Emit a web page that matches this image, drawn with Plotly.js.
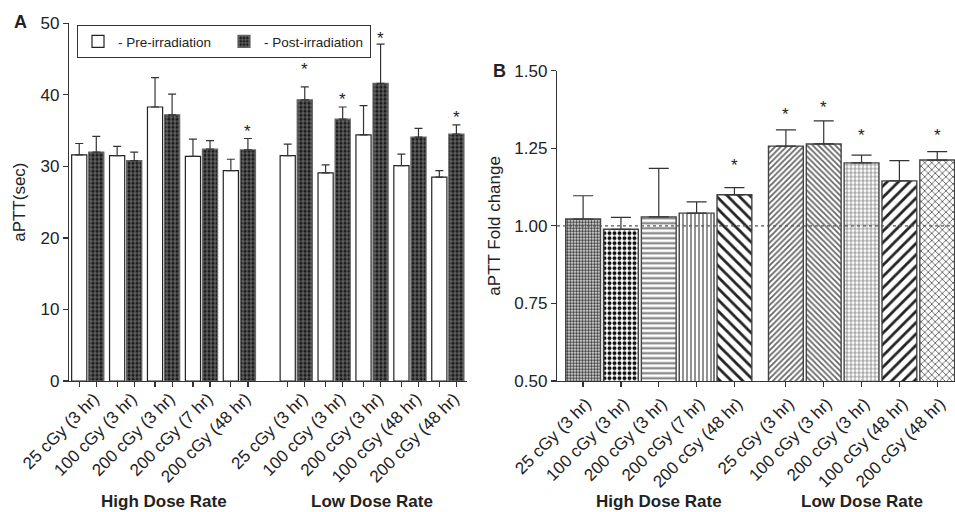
<!DOCTYPE html>
<html>
<head>
<meta charset="utf-8">
<script src="https://cdn.plot.ly/plotly-3.0.1.min.js"></script>
<style>html,body{margin:0;padding:0;background:#fff;}#chart{width:955px;height:512px;}</style>
</head>
<body>
<div id="chart"></div>
<script>
// ---------- data ----------
const categories = ["25 cGy (3 hr)", "100 cGy (3 hr)", "200 cGy (3 hr)", "200 cGy (7 hr)", "200 cGy (48 hr)",
                    "25 cGy (3 hr)", "100 cGy (3 hr)", "200 cGy (3 hr)", "100 cGy (48 hr)", "200 cGy (48 hr)"];
const groupLabels = ["High Dose Rate", "Low Dose Rate"];
// Panel A: aPTT (sec)
const preIrradiation  = [31.6, 31.5, 38.3, 31.4, 29.4, 31.5, 29.1, 34.4, 30.1, 28.5];
const preError        = [1.6, 1.3, 4.1, 2.4, 1.6, 1.6, 1.1, 4.1, 1.6, 0.9];
const postIrradiation = [32.0, 30.8, 37.2, 32.4, 32.3, 39.3, 36.6, 41.6, 34.1, 34.5];
const postError       = [2.2, 1.2, 2.9, 1.2, 1.6, 1.8, 1.7, 5.5, 1.2, 1.3];
const starA           = [null, null, null, null, 35.4, 44.1, 39.9, 48.4, null, 37.4];
// Panel B: aPTT fold change
const foldChange      = [1.022, 0.989, 1.029, 1.041, 1.100, 1.257, 1.264, 1.203, 1.145, 1.212];
const foldError       = [0.075, 0.038, 0.156, 0.036, 0.023, 0.052, 0.074, 0.025, 0.065, 0.027];
const starB           = [null, null, null, null, 1.209, 1.373, 1.395, 1.304, null, 1.304];

// ---------- layout helpers ----------
const FONT = "Liberation Sans, Arial, sans-serif";
const TXT = "#222";
const TICKSIZE = 17;
const GAP_A = 0.5, GAP_B = 0.36;
const posA = categories.map((c, i) => i + (i >= 5 ? GAP_A : 0));
const posB = categories.map((c, i) => i + (i >= 5 ? GAP_B : 0));
const zeros = categories.map(() => 0);

const traces = [
  {
    type: "bar", name: "- Pre-irradiation", x: posA, y: preIrradiation,
    xaxis: "x", yaxis: "y", offset: -0.43, width: 0.40,
    marker: { color: "#ffffff", line: { color: "#222", width: 1.2 } },
    error_y: { type: "data", symmetric: false, array: preError, arrayminus: zeros,
               color: "#333", thickness: 1.2, width: 4 }
  },
  {
    type: "bar", name: "- Post-irradiation", x: posA, y: postIrradiation,
    xaxis: "x", yaxis: "y", offset: 0.02, width: 0.40,
    marker: { color: "#1c1c1c", line: { color: "#666", width: 1.2 },
              pattern: { shape: "+", fgcolor: "#bdbdbd", bgcolor: "#1c1c1c", size: 4, solidity: 0.22, fillmode: "replace" } },
    error_y: { type: "data", symmetric: false, array: postError, arrayminus: zeros,
               color: "#333", thickness: 1.2, width: 4 }
  },
  {
    type: "bar", name: "fold", showlegend: false, x: posB, y: foldChange,
    xaxis: "x2", yaxis: "y2", width: 0.92,
    marker: { color: "#ffffff", line: { color: "#444", width: 1.4 },
      pattern: {
        shape:    [".", ".", "-", "|", "\\", "/", "\\", "+", "/", "x"],
        size:     [3, 5, 5, 4, 8, 4, 4, 4, 8, 5],
        solidity: [0.6, 0.5, 0.4, 0.4, 0.35, 0.45, 0.45, 0.3, 0.35, 0.3],
        fgcolor:  ["#333", "#111", "#777", "#777", "#222", "#666", "#666", "#666", "#222", "#555"],
        bgcolor:  "#ffffff", fillmode: "replace"
      } },
    error_y: { type: "data", symmetric: false, array: foldError, arrayminus: zeros,
               color: "#333", thickness: 1.2, width: 10 }
  }
];

const annotations = [];
starA.forEach((v, i) => { if (v !== null) annotations.push({ x: posA[i] + 0.22, y: v, xref: "x", yref: "y",
  text: "*", showarrow: false, yanchor: "middle", yshift: -4, font: { family: FONT, size: 17, color: TXT } }); });
starB.forEach((v, i) => { if (v !== null) annotations.push({ x: posB[i], y: v, xref: "x2", yref: "y2",
  text: "*", showarrow: false, yanchor: "middle", yshift: -4, font: { family: FONT, size: 17, color: TXT } }); });
// group labels
const GY = 1 - 501 / 512;
annotations.push({ x: posA[2], y: GY, xref: "x", yref: "paper", text: "<b>" + groupLabels[0] + "</b>", showarrow: false, yanchor: "middle", font: { family: FONT, size: 17, color: TXT } });
annotations.push({ x: posA[7], y: GY, xref: "x", yref: "paper", text: "<b>" + groupLabels[1] + "</b>", showarrow: false, yanchor: "middle", font: { family: FONT, size: 17, color: TXT } });
annotations.push({ x: posB[2], y: GY, xref: "x2", yref: "paper", text: "<b>" + groupLabels[0] + "</b>", showarrow: false, yanchor: "middle", font: { family: FONT, size: 17, color: TXT } });
annotations.push({ x: posB[7], y: GY, xref: "x2", yref: "paper", text: "<b>" + groupLabels[1] + "</b>", showarrow: false, yanchor: "middle", font: { family: FONT, size: 17, color: TXT } });
// panel letters
annotations.push({ x: 20 / 955, y: 1 - 22 / 512, xref: "paper", yref: "paper", text: "<b>A</b>", showarrow: false, xanchor: "center", yanchor: "middle", font: { family: FONT, size: 18, color: TXT } });
annotations.push({ x: 499 / 955, y: 1 - 71 / 512, xref: "paper", yref: "paper", text: "<b>B</b>", showarrow: false, xanchor: "center", yanchor: "middle", font: { family: FONT, size: 18, color: TXT } });

const tickCentersA = [];
posA.forEach(p => { tickCentersA.push(p - 0.23); tickCentersA.push(p + 0.22); });

const axisCommon = { showline: true, linecolor: "#333", linewidth: 1.2, showgrid: false, zeroline: false,
  ticks: "outside", ticklen: 5, tickcolor: "#333", tickwidth: 1.2,
  tickfont: { family: FONT, size: TICKSIZE, color: TXT } };

const layout = {
  width: 955, height: 512,
  margin: { l: 0, r: 0, t: 0, b: 0 },
  paper_bgcolor: "#fff", plot_bgcolor: "#fff",
  showlegend: true,
  legend: { orientation: "h", x: 77 / 955, y: 1 - 25 / 512, xanchor: "left", yanchor: "top",
            bordercolor: "#333", borderwidth: 1, bgcolor: "#fff", itemwidth: 30,
            entrywidth: 101, entrywidthmode: "pixels",
            font: { family: FONT, size: 13.5, color: TXT }, traceorder: "normal" },
  xaxis: Object.assign({}, axisCommon, { domain: [69 / 955, 467 / 955], range: [-0.5, 10], anchor: "y",
           ticks: "", ticklen: 5, tickvals: posA, ticktext: categories, tickangle: -45, ticklabelshift: 6,
           minor: { tickmode: "array", tickvals: tickCentersA, ticks: "outside", ticklen: 5, tickcolor: "#333", tickwidth: 1.2, showgrid: false } }),
  yaxis: Object.assign({}, axisCommon, { domain: [1 - 381 / 512, 1 - 23.3 / 512], range: [0, 50], anchor: "x",
           tickvals: [0, 10, 20, 30, 40, 50],
           title: { text: "aPTT(sec)", standoff: 10, font: { family: FONT, size: TICKSIZE, color: TXT } } }),
  xaxis2: Object.assign({}, axisCommon, { domain: [557 / 955, 1], range: [-0.69, 9.83], anchor: "y2",
           tickvals: posB, ticktext: categories, tickangle: -45, ticklabelshift: 3 }),
  yaxis2: Object.assign({}, axisCommon, { domain: [1 - 381 / 512, 1 - 70.7 / 512], range: [0.5, 1.5], anchor: "x2",
           tickvals: [0.5, 0.75, 1.0, 1.25, 1.5], tickformat: ".2f",
           title: { text: "aPTT Fold change", standoff: 9, font: { family: FONT, size: TICKSIZE, color: TXT } } }),
  shapes: [
    { type: "line", xref: "x2 domain", yref: "y2", x0: 0, x1: 1, y0: 1, y1: 1,
      line: { color: "#555", width: 1.2, dash: "3px,3px" }, layer: "above" }
  ],
  annotations: annotations
};

Plotly.newPlot("chart", traces, layout, { staticPlot: true, displayModeBar: false });
</script>
</body>
</html>
